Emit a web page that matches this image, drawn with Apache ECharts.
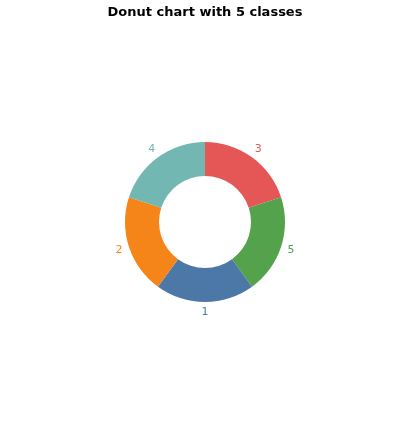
<!DOCTYPE html>
<html><head><meta charset="utf-8">
<script src="https://cdn.jsdelivr.net/npm/echarts@6/dist/echarts.min.js"></script>
<style>html,body{margin:0;padding:0;background:#fff}#c{width:410px;height:427px}</style>
</head><body><div id="c"></div>
<script>
const categories = ['3', '5', '1', '2', '4'];
const values = [1, 1, 1, 1, 1];
const colors = ['#e45756', '#54a24b', '#4c78a8', '#f58518', '#72b7b2'];
const titleText = 'Donut chart with 5 classes';

const chart = echarts.init(document.getElementById('c'), null, {renderer: 'canvas'});
const ringData = categories.map((c, i) => ({name: c, value: values[i], itemStyle: {color: colors[i]}}));
const labelData = categories.map((c, i) => ({name: c, value: values[i], itemStyle: {color: 'rgba(0,0,0,0)'}, label: {color: colors[i]}}));
chart.setOption({
  animation: false,
  title: {
    text: titleText, left: 'center', top: 1,
    textStyle: {fontFamily: 'DejaVu Sans', fontWeight: 'bold', fontSize: 13, color: '#000'}
  },
  series: [
    {
      type: 'pie', center: [205, 222], radius: [46, 80], startAngle: 90, clockwise: true,
      label: {show: false}, labelLine: {show: false}, silent: true,
      data: ringData
    },
    {
      type: 'pie', center: [205, 222], radius: [80, 95], startAngle: 90, clockwise: true,
      silent: true, labelLine: {show: false},
      label: {show: true, position: 'inside', formatter: '{b}', fontFamily: 'DejaVu Sans', fontSize: 11,
               textBorderWidth: 0, textShadowBlur: 0},
      data: labelData
    }
  ]
});
</script></body></html>
